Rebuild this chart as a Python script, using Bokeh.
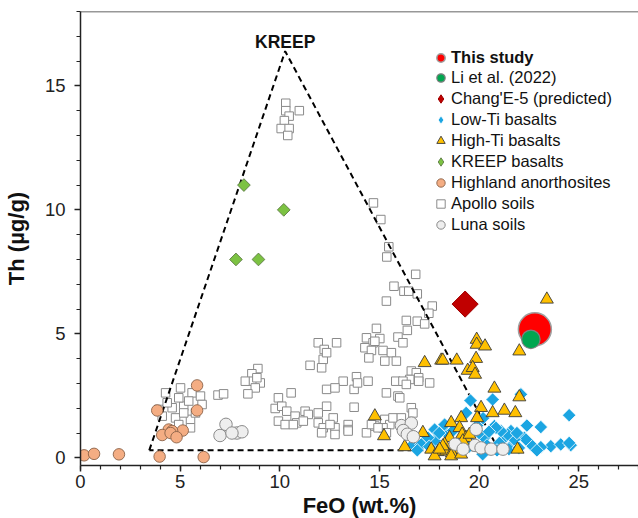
import math
from bokeh.plotting import figure
from bokeh.models import Legend, LegendItem, Span, Label, Title, SingleIntervalTicker
from bokeh.embed import file_html
from bokeh.resources import INLINE

FONT = "Liberation Sans"

# ---- data (FeO wt.%, Th ug/g) ----
this_feo = [22.8]
this_th = [5.18]

li_feo = [22.6]
li_th = [4.78]

ce5_feo = [19.3]
ce5_th = [6.2]

kreep_bas_feo = [8.2, 10.2, 7.8, 8.93]
kreep_bas_th = [11.0, 10.0, 8.0, 8.0]

highland_feo = [0.18, 0.68, 1.93, 3.97, 6.18, 5.85, 3.85, 5.85, 4.43, 4.1, 4.77, 5.13, 4.6, 4.52, 4.82]
highland_th = [0.1, 0.16, 0.14, 0.05, 0.03, 2.92, 1.91, 1.91, 1.14, 0.92, 0.92, 1.1, 1.08, 1.0, 0.83]

luna_feo = [7.3, 7.0, 7.85, 8.1, 7.6, 16.1, 16.6, 16.2, 16.4, 16.7, 18.8, 19.2, 19.85, 19.8, 20.1, 20.6, 21.2]
luna_th = [1.35, 0.9, 1.0, 1.05, 1.0, 1.3, 1.4, 1.1, 0.95, 0.85, 0.55, 0.35, 1.15, 0.5, 0.4, 0.35, 0.35]

apollo_feo = [
    10.3, 10.3, 10.98, 10.47, 10.23, 10.07, 10.47, 10.4,
    14.7, 15.07, 15.47, 15.37, 16.82, 15.73, 16.23, 16.47, 16.9, 15.35, 17.65, 17.48, 16.35, 16.9, 17.27, 16.4, 14.85,
    12.85, 14.35, 14.68, 15.02, 15.93, 16.18, 14.27, 14.6, 15.18, 15.6, 14.47, 15.27, 15.85, 16.6, 16.85, 16.97, 16.52,
    15.82, 16.18, 16.35, 16.97, 17.52, 13.18, 13.85, 14.43, 13.73, 15.35, 15.93, 16.02, 13.73, 12.68, 13.43, 12.77,
    12.77, 13.43, 14.35, 14.77, 15.27, 15.52, 15.68, 16.1, 16.6, 16.68, 15.18, 15.35,
    11.93, 12.23, 12.18, 11.52, 12.1, 12.35, 14.77, 12.35, 12.77, 13.9, 8.9, 8.6, 8.27, 8.68, 9.02, 8.77, 8.4, 8.85,
    6.9, 7.18, 9.93, 10.57, 9.77, 10.1, 10.35, 9.93, 10.27, 10.77, 10.85, 10.68, 11.27, 11.43, 11.18, 11.93, 12.35,
    11.93, 12.18, 12.52, 12.1, 13.43, 14.6, 14.93,
    4.27, 5.02, 5.6, 6.02, 6.1, 4.6, 5.18, 4.77, 5.52, 3.93, 4.35, 4.93, 5.43, 5.77, 4.1, 5.18, 4.93, 5.52,
]
apollo_th = [
    14.3, 14.0, 14.0, 13.78, 13.6, 13.28, 13.28, 13.0,
    10.28, 9.61, 8.51, 8.1, 7.4, 6.92, 6.72, 6.72, 6.61, 6.32, 6.12, 5.83, 5.54, 5.51, 5.4, 5.14, 5.22,
    4.64, 4.84, 4.64, 4.81, 4.87, 4.64, 4.44, 4.33, 4.33, 4.24, 4.03, 3.9, 3.9, 3.5, 3.43, 3.23, 3.16,
    3.09, 3.09, 2.96, 3.09, 3.02, 3.09, 3.27, 3.09, 2.76, 2.62, 2.49, 2.42, 2.04, 1.61, 1.34, 1.21,
    0.94, 1.14, 1.01, 1.28, 1.55, 1.34, 1.61, 1.61, 2.02, 1.81, 1.21, 1.01,
    4.64, 4.37, 3.97, 3.73, 3.63, 4.24, 4.7, 2.76, 2.82, 3.02, 3.6, 3.39, 3.09, 3.09, 3.02, 2.82, 2.58, 3.23,
    2.53, 2.58, 2.42, 2.62, 1.99, 2.08, 1.88, 1.48, 1.34, 1.68, 1.41, 1.34, 1.88, 1.75, 1.48, 1.81, 2.08,
    1.41, 1.21, 1.34, 1.01, 1.08, 1.34, 1.21,
    2.62, 2.82, 2.62, 2.49, 2.15, 2.02, 2.08, 1.61, 1.55, 1.95, 2.22, 2.42, 2.29, 1.81, 1.68, 1.81, 1.34, 1.21,
]

highti_feo = [23.4, 22.02, 19.88, 19.88, 20.3, 17.27, 18.1, 18.18, 18.88, 19.85, 19.43, 19.68, 19.8, 20.77, 22.02,
              20.1, 20.68, 21.27, 21.82, 14.77, 15.23, 18.6, 19.1, 19.9, 19.02, 19.15, 19.35, 18.52, 18.27, 17.6,
              17.93, 16.27, 17.18, 18.35, 18.85, 19.18, 21.93, 18.63, 17.77, 18.6, 19.1, 19.52, 18.18, 18.02]
highti_th = [6.39, 4.3, 4.77, 4.57, 4.5, 3.83, 3.93, 3.93, 3.93, 4.0, 3.52, 3.63, 3.36, 2.8, 2.45,
             2.02, 1.81, 1.91, 1.81, 1.68, 0.88, 1.41, 1.61, 1.61, 1.21, 0.94, 0.81, 0.81, 0.54, 0.34,
             0.24, 0.44, 1.01, 0.27, 0.34, 0.67, 0.34, 0.2, 0.07, 0.07, 0.14, 0.94, 0.47, 0.34]

lowti_feo = [24.52, 23.1, 22.1, 20.68, 19.57, 19.35, 18.27, 17.77, 16.68, 17.77, 20.77, 21.6, 21.27, 22.27, 22.6,
             20.18, 23.6, 24.1, 24.6, 23.1, 20.27, 21.02, 21.68, 19.6, 19.27, 18.93, 18.43, 17.43, 17.1, 24.52,
             22.35, 21.77, 21.43, 21.1, 20.85, 20.0, 20.4, 20.9, 21.5, 22.0, 22.9, 19.9, 20.5, 21.9, 18.7,
             16.9, 22.4, 20.2, 18.0, 17.5, 19.5]
lowti_th = [1.72, 1.24, 2.56, 2.35, 2.31, 1.81, 1.34, 0.7, 0.54, 1.14, 1.28, 1.08, 0.81, 0.81, 0.54,
            0.14, 0.47, 0.54, 0.51, 0.43, 0.81, 0.6, 0.54, 0.94, 0.81, 0.6, 0.94, 0.81, 0.54, 0.6,
            0.74, 0.74, 0.94, 1.08, 1.21, 1.0, 0.5, 0.3, 0.35, 0.4, 0.3, 1.3, 1.05, 1.0, 1.1,
            0.3, 1.3, 1.6, 1.0, 0.45, 0.45]

kreep_tri_feo = [3.45, 10.27, 21.0, 3.45]
kreep_tri_th = [0.3, 16.4, 0.3, 0.3]

# placeholder (not drawn on the plot) used only for legend swatches
legend_only = [float("nan")]

x_ticks_interval = 5
y_ticks_interval = 5

# ---- figure ----
p = figure(width=638, height=518, x_range=(0, 28), y_range=(-0.31, 18),
           output_backend="svg", toolbar_location=None,
           min_border_left=78, min_border_right=0, min_border_top=11, min_border_bottom=53)
p.grid.visible = False
p.outline_line_color = None
p.background_fill_color = "white"
p.border_fill_color = "white"

for ax in (p.xaxis[0], p.yaxis[0]):
    ax.axis_line_color = "#222222"
    ax.axis_line_width = 1.5
    ax.major_tick_line_color = "#222222"
    ax.major_tick_line_width = 1.5
    ax.minor_tick_line_color = "#222222"
    ax.minor_tick_line_width = 1.2
    ax.major_tick_out = 6
    ax.major_tick_in = 0
    ax.minor_tick_out = 4
    ax.minor_tick_in = 0
    ax.major_label_text_font = FONT
    ax.major_label_text_font_size = "18.5px"
    ax.major_label_text_color = "#222222"
p.xaxis.major_label_standoff = 3
p.yaxis.major_label_standoff = 9

p.xaxis.ticker = SingleIntervalTicker(interval=x_ticks_interval, num_minor_ticks=5)
p.yaxis.ticker = SingleIntervalTicker(interval=y_ticks_interval, num_minor_ticks=5)

p.yaxis.axis_label = "Th (µg/g)"
p.yaxis.axis_label_text_font = FONT
p.yaxis.axis_label_text_font_size = "22px"
p.yaxis.axis_label_text_font_style = "bold"
p.yaxis.axis_label_text_color = "#111111"
p.yaxis.axis_label_standoff = 13

p.add_layout(Title(text="FeO (wt.%)", align="center", offset=-18, standoff=0,
                   text_font=FONT, text_font_size="22px", text_font_style="bold",
                   text_color="#111111"), "below")

p.add_layout(Span(location=18, dimension="width", line_color="#333333", line_width=1.5))

# ---- glyphs ----
r_apollo = p.scatter(apollo_feo, apollo_th, marker="square", size=8.5,
                     fill_color="white", line_color="#8a8a8a", line_width=1)

p.line(kreep_tri_feo, kreep_tri_th, line_color="black", line_width=2, line_dash="6 4")

lowti_style = dict(fill_color="#1BA5E2", line_color="white", line_width=0.8)
kreep_style = dict(fill_color="#7CC242", line_color="#5d7a45", line_width=0.9)
ce5_style = dict(fill_color="#C00000", line_color="#A00000", line_width=1)

p.scatter(lowti_feo, lowti_th, marker="square", angle=math.pi / 4, size=9.5, **lowti_style)
r_highti = p.scatter(highti_feo, highti_th, marker="triangle", size=13,
                     fill_color="#FFC000", line_color="#3a3a3a", line_width=0.9)
r_luna = p.scatter(luna_feo, luna_th, marker="circle", size=12.5,
                   fill_color="#EEEEEE", line_color="#8a8a8a", line_width=1)
r_high = p.scatter(highland_feo, highland_th, marker="circle", size=11.5,
                   fill_color="#F4AD83", line_color="#8a6248", line_width=0.9)
p.scatter(kreep_bas_feo, kreep_bas_th, marker="square", angle=math.pi / 4, size=9, **kreep_style)
p.scatter(ce5_feo, ce5_th, marker="square", angle=math.pi / 4, size=18.5, **ce5_style)
r_this = p.scatter(this_feo, this_th, marker="circle", size=33,
                   fill_color="#FF0000", line_color="#a0a0a0", line_width=1.5)
r_li = p.scatter(li_feo, li_th, marker="circle", size=18.5,
                 fill_color="#00A650", line_color="#808080", line_width=1.2)

# legend-only swatches (legend glyphs cannot be rotated, so use diamond markers)
r_lowti_leg = p.scatter(legend_only, legend_only, marker="diamond", size=10, **lowti_style)
r_kreep_leg = p.scatter(legend_only, legend_only, marker="diamond", size=10,
                        fill_color="#7CC242", line_color="#5d7a45", line_width=0.9)
r_ce5_leg = p.scatter(legend_only, legend_only, marker="diamond", size=10, **ce5_style)

p.add_layout(Label(x=10.27, y=16.4, text="KREEP", text_align="center", text_baseline="alphabetic",
                   y_offset=9, text_font=FONT, text_font_size="17.5px", text_font_style="bold",
                   text_color="#111111"))

# ---- legends ----
def make_legend(items, loc, bold=False):
    lg = Legend(items=items, location=loc, orientation="vertical",
                background_fill_alpha=0, border_line_color=None,
                padding=0, margin=0, spacing=0,
                label_height=21, glyph_height=21, glyph_width=21, label_standoff=0,
                label_text_font=FONT, label_text_font_size="16.5px",
                label_text_color="#111111",
                label_text_font_style="bold" if bold else "normal")
    return lg

leg1 = make_legend([LegendItem(label="This study", renderers=[r_this])], (350, 397), bold=True)
leg2 = make_legend([
    LegendItem(label="Li et al. (2022)", renderers=[r_li]),
    LegendItem(label="Chang'E-5 (predicted)", renderers=[r_ce5_leg]),
    LegendItem(label="Low-Ti basalts", renderers=[r_lowti_leg]),
    LegendItem(label="High-Ti basalts", renderers=[r_highti]),
    LegendItem(label="KREEP basalts", renderers=[r_kreep_leg]),
    LegendItem(label="Highland anorthosites", renderers=[r_high]),
    LegendItem(label="Apollo soils", renderers=[r_apollo]),
    LegendItem(label="Luna soils", renderers=[r_luna]),
], (350, 230))
p.add_layout(leg1, "center")
p.add_layout(leg2, "center")

open("out.html", "w").write(file_html(p, INLINE))
